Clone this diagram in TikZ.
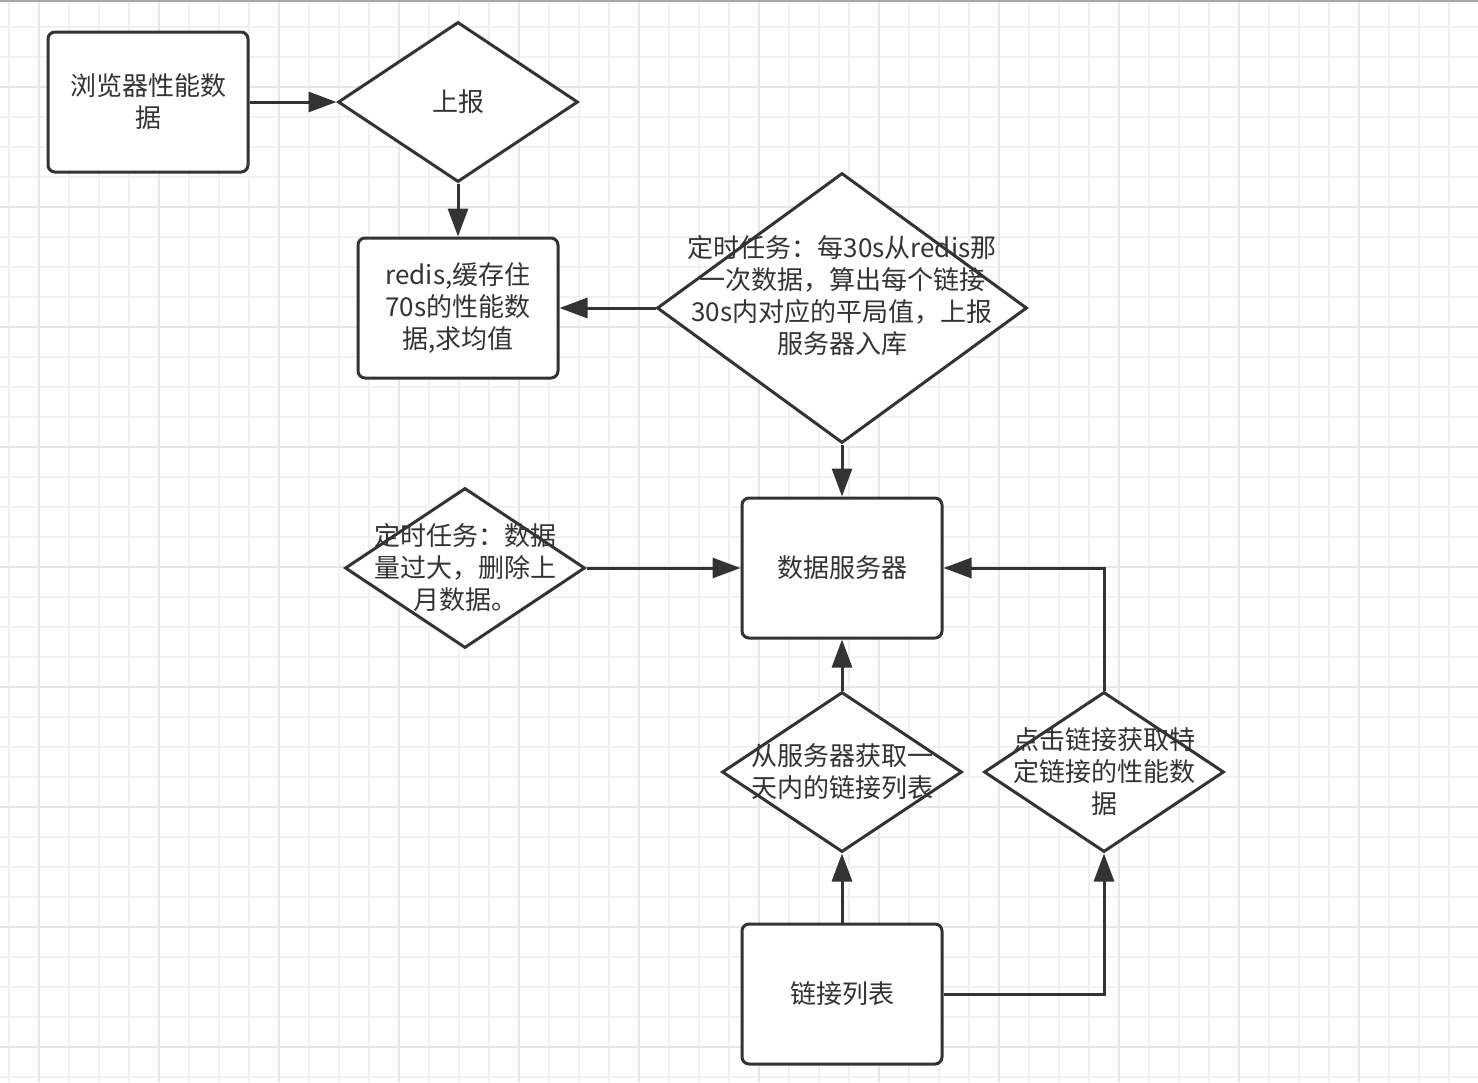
\documentclass[tikz,border=0pt]{standalone}
\usepackage{fontspec}
\newfontfamily\cjk{Noto Sans CJK SC}
\usetikzlibrary{shapes.geometric,arrows.meta}
\definecolor{ink}{HTML}{333333}
\definecolor{gridminor}{HTML}{F1F1F1}
\definecolor{gridmajor}{HTML}{E6E6E6}
\definecolor{topbar}{HTML}{A8A8A8}
\begin{document}
\begin{tikzpicture}[x=0.5pt,y=-0.5pt,
  txt/.style={font=\cjk\fontsize{13pt}{16pt}\selectfont, text=ink, align=center, inner sep=0pt},
  box/.style={draw=ink, line width=1.5pt, rounded corners=3.5pt, minimum width=100pt, minimum height=70pt, fill=white, txt},
  dia/.style={draw=ink, line width=1.5pt, diamond, fill=white, inner sep=0pt},
  conn/.style={draw=ink, line width=1.5pt, -{Triangle[length=14pt,width=10pt]}}]
\useasboundingbox (0,0) rectangle (1478,1082);
\fill[white] (0,0) rectangle (1478,1082);
% grid
\foreach \x in {9,39,...,1478} \draw[gridminor, line width=1pt] (\x,0) -- (\x,1082);
\foreach \y in {27,57,...,1082} \draw[gridminor, line width=1pt] (0,\y) -- (1478,\y);
\foreach \x in {39,159,...,1478} \draw[gridmajor, line width=1pt] (\x,0) -- (\x,1082);
\foreach \y in {87,207,...,1082} \draw[gridmajor, line width=1pt] (0,\y) -- (1478,\y);
\draw[topbar, line width=1pt] (0,1) -- (1478,1);

% nodes
\node[box] (b1) at (148,102) {浏览器性能数\\据};
\node[dia, minimum width=120pt, minimum height=80pt] (d1) at (458,102) {};
\node[txt] (t1) at (d1.center) {上报};
\node[box] (b2) at (458,308) {redis,缓存住\\70s的性能数\\据,求均值};
\node[dia, minimum width=185pt, minimum height=135pt] (d2) at (842,308) {};
\node[txt] (t2) at ([yshift=6pt]d2.center) {定时任务：每30s从redis那\\一次数据，算出每个链接\\30s内对应的平局值，上报\\服务器入库};
\node[box] (srv) at (842,568) {数据服务器};
\node[dia, minimum width=120pt, minimum height=80pt] (d3) at (465,568) {};
\node[txt] (t3) at (d3.center) {定时任务：数据\\量过大，删除上\\月数据。};
\node[dia, minimum width=120pt, minimum height=80pt] (d4) at (842,772) {};
\node[txt] (t4) at (d4.center) {从服务器获取一\\天内的链接列表};
\node[dia, minimum width=120pt, minimum height=80pt] (d5) at (1104,772) {};
\node[txt] (t5) at (d5.center) {点击链接获取特\\定链接的性能数\\据};
\node[box] (b4) at (842,994) {链接列表};

% connectors
\draw[conn] (b1.east) -- (d1.west);
\draw[conn] (d1.south) -- (b2.north);
\draw[conn] (d2.west) -- (b2.east);
\draw[conn] (d2.south) -- (srv.north);
\draw[conn] (d3.east) -- (srv.west);
\draw[conn] (d4.north) -- (srv.south);
\draw[conn] (d5.north) |- (srv.east);
\draw[conn] (b4.north) -- (d4.south);
\draw[conn] (b4.east) -| (d5.south);
\end{tikzpicture}
\end{document}
